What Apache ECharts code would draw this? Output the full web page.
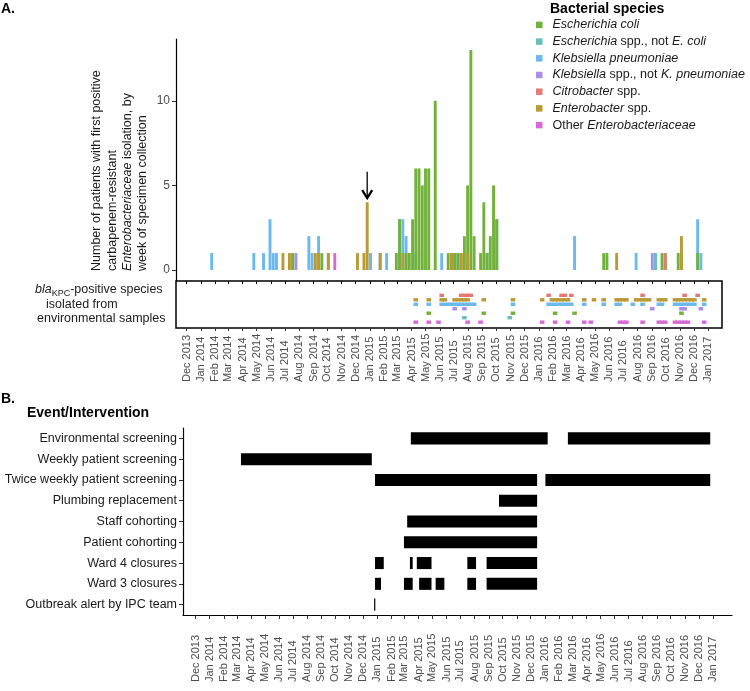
<!DOCTYPE html>
<html><head><meta charset="utf-8">
<script src="https://cdn.jsdelivr.net/npm/echarts@6/dist/echarts.min.js"></script>
<style>html,body{margin:0;padding:0;background:#fff}#c{width:750px;height:691px}</style>
</head><body><div id="c"></div>
<script>
// ---------- DATA ----------
const monthLabels = ['Dec 2013','Jan 2014','Feb 2014','Mar 2014','Apr 2014','May 2014','Jun 2014','Jul 2014','Aug 2014','Sep 2014','Oct 2014','Nov 2014','Dec 2014','Jan 2015','Feb 2015','Mar 2015','Apr 2015','May 2015','Jun 2015','Jul 2015','Aug 2015','Sep 2015','Oct 2015','Nov 2015','Dec 2015','Jan 2016','Feb 2016','Mar 2016','Apr 2016','May 2016','Jun 2016','Jul 2016','Aug 2016','Sep 2016','Oct 2016','Nov 2016','Dec 2016','Jan 2017'];
const yTicksA = [0, 5, 10];

const speciesNames = ['Escherichia coli','Escherichia spp., not E. coli','Klebsiella pneumoniae','Klebsiella spp., not K. pneumoniae','Citrobacter spp.','Enterobacter spp.','Other Enterobacteriaceae'];
const speciesColors = ['#72b23b','#69c0b9','#6cb9ec','#a88de9','#e27b73','#b99a35','#d56ad5'];

// weekly counts: [week index since 1 Dec 2013, patients]
const ecoliWeekly = [[32,1],[41,1],[64,1],[65,3],[67,1],[68,1],[69,3],[70,6],[71,6],[72,5],[73,6],[74,6],[76,10],[80,1],[81,1],[82,1],[83,1],[84,1],[85,2],[86,5],[87,13],[88,2],[90,1],[91,4],[92,1],[93,2],[94,5],[95,3],[128,1],[129,1],[146,1],[147,1],[151,1],[152,1],[157,1]];
const escherichiaSppWeekly = [[144,1]];
const kpneumoniaeWeekly = [[7,1],[20,1],[23,1],[25,3],[26,1],[27,1],[32,1],[37,2],[38,1],[40,2],[43,1],[56,1],[59,1],[61,1],[65,3],[66,3],[67,2],[70,1],[78,1],[82,1],[83,1],[92,1],[95,3],[119,2],[138,1],[144,1],[157,3],[158,1]];
const klebsiellaSppWeekly = [[33,1],[56,1],[143,1]];
const citrobacterWeekly = [[147,1]];
const enterobacterWeekly = [[29,1],[31,1],[39,1],[40,1],[43,1],[52,1],[54,1],[55,4],[59,1],[66,1],[81,1],[84,1],[86,1],[132,1],[152,2]];
const otherWeekly = [[45,1]];

// environmental samples: weeks with a positive isolate
const envEcoli = [74,91,100,113,119,152];
const envEscherichiaSpp = [85,99];
const envKpneumoniae = [70,74,78,79,80,81,82,83,84,85,86,87,88,100,111,112,113,114,115,116,117,118,122,128,132,133,137,140,145,146,150,151,152,153,154,155,156,159];
const envKlebsiellaSpp = [82,85,143,152,153,158];
const envCitrobacter = [78,84,85,86,87,111,115,116,118,140,153,157];
const envEnterobacter = [70,74,78,79,82,83,84,85,86,91,100,109,112,113,114,115,116,117,122,125,128,132,133,134,135,138,139,140,141,142,145,146,147,150,151,152,153,154,155,156,159];
const envOther = [70,74,77,86,90,109,113,117,122,124,133,134,135,140,145,146,147,150,151,152,153,154,159];

// arrow annotation (outbreak alert week)
const arrowWeek = 55, arrowTip = 4.25, arrowTail = 5.8;

// Panel B
const eventNames = ['Environmental screening','Weekly patient screening','Twice weekly patient screening','Plumbing replacement','Staff cohorting','Patient cohorting','Ward 4 closures','Ward 3 closures','Outbreak alert by IPC team'];
const envScreening = [['2015-03-15','2016-01-07'],['2016-02-20','2016-12-26']];
const weeklyScreening = [['2014-03-10','2014-12-20']];
const twiceWeeklyScreening = [['2014-12-27','2015-12-15'],['2016-01-02','2016-12-26']];
const plumbing = [['2015-09-23','2015-12-15']];
const staffCohorting = [['2015-03-07','2015-12-15']];
const patientCohorting = [['2015-02-28','2015-12-15']];
const ward4Closures = [['2014-12-27','2015-01-15'],['2015-03-13','2015-03-19'],['2015-03-28','2015-04-29'],['2015-07-16','2015-08-04'],['2015-08-27','2015-12-15']];
const ward3Closures = [['2014-12-27','2015-01-09'],['2015-02-28','2015-03-19'],['2015-04-02','2015-04-29'],['2015-05-08','2015-05-27'],['2015-07-16','2015-08-04'],['2015-08-27','2015-12-15']];
const outbreakAlert = [['2014-12-25','2014-12-25']];

// ---------- BUILD ----------
const T0 = Date.UTC(2013, 11, 1);
const dayOf = s => { const p = s.split('-').map(Number); return (Date.UTC(p[0], p[1]-1, p[2]) - T0) / 864e5; };
const weekCenter = w => 7 * w + 5;
const monthDays = monthLabels.map((_, i) => (Date.UTC(2013, 11 + i, 1) - T0) / 864e5);
const monthFmt = v => { const i = monthDays.findIndex(d => Math.abs(d - v) < 0.01); return i >= 0 ? monthLabels[i] : ''; };

const weeklyBySpecies = [ecoliWeekly, escherichiaSppWeekly, kpneumoniaeWeekly, klebsiellaSppWeekly, citrobacterWeekly, enterobacterWeekly, otherWeekly];
const envBySpecies = [envEcoli, envEscherichiaSpp, envKpneumoniae, envKlebsiellaSpp, envCitrobacter, envEnterobacter, envOther];
const envRow = [4, 5, 2, 3, 0, 1, 6];          // row inside environmental strip (top = 0)
const stackOrder = [3, 2, 1, 0, 4, 5, 6];       // bottom -> top

const allWeeks = Array.from(new Set([].concat(...weeklyBySpecies.map(a => a.map(p => p[0]))))).sort((a, b) => a - b);

const FONT = 'Liberation Sans, Arial, Helvetica, sans-serif';
const series = [];
stackOrder.forEach(si => {
  const m = new Map(weeklyBySpecies[si]);
  series.push({
    name: speciesNames[si], type: 'bar', stack: 'cre', xAxisIndex: 0, yAxisIndex: 0,
    barWidth: 2.9, itemStyle: { color: speciesColors[si] },
    data: allWeeks.map(w => [weekCenter(w), m.get(w) || 0])
  });
});
envBySpecies.forEach((arr, si) => {
  series.push({
    name: 'env ' + speciesNames[si], type: 'scatter', xAxisIndex: 1, yAxisIndex: 1,
    symbol: 'rect', symbolSize: [4.6, 3.4], itemStyle: { color: speciesColors[si], opacity: 1 },
    data: arr.map(w => [weekCenter(w), envRow[si]])
  });
});
series.push({
  type: 'custom', xAxisIndex: 0, yAxisIndex: 0, encode: { x: 0, y: [1, 2] },
  data: [[weekCenter(arrowWeek), arrowTip, arrowTail]],
  renderItem: (params, api) => {
    const tip = api.coord([api.value(0), api.value(1)]);
    const tail = api.coord([api.value(0), api.value(2)]);
    return { type: 'group', children: [
      { type: 'line', shape: { x1: tip[0], y1: tail[1], x2: tip[0], y2: tip[1] - 1 }, style: { stroke: '#000', lineWidth: 1.3 } },
      { type: 'polyline', shape: { points: [[tip[0] - 5, tip[1] - 8], [tip[0], tip[1]], [tip[0] + 5, tip[1] - 8]] }, style: { stroke: '#000', lineWidth: 2.3, fill: null } }
    ]};
  }
});
const eventIntervals = [envScreening, weeklyScreening, twiceWeeklyScreening, plumbing, staffCohorting, patientCohorting, ward4Closures, ward3Closures, outbreakAlert];
const eventData = [];
eventIntervals.forEach((list, row) => list.forEach(iv => eventData.push([dayOf(iv[0]), dayOf(iv[1]), row])));
series.push({
  type: 'custom', xAxisIndex: 3, yAxisIndex: 2, encode: { x: [0, 1], y: 2 },
  data: eventData,
  renderItem: (params, api) => {
    const s = api.coord([api.value(0), api.value(2)]);
    const e = api.coord([api.value(1), api.value(2)]);
    const h = api.size([0, 1])[1] * 0.58;
    return { type: 'rect', shape: { x: s[0], y: s[1] - h / 2, width: Math.max(e[0] - s[0], 1.2), height: h }, style: { fill: '#000' } };
  }
});

const richLegend = {
  'Escherichia coli': '{i|Escherichia coli}',
  'Escherichia spp., not E. coli': '{i|Escherichia}{n| spp., not }{i|E. coli}',
  'Klebsiella pneumoniae': '{i|Klebsiella pneumoniae}',
  'Klebsiella spp., not K. pneumoniae': '{i|Klebsiella}{n| spp., not }{i|K. pneumoniae}',
  'Citrobacter spp.': '{i|Citrobacter}{n| spp.}',
  'Enterobacter spp.': '{i|Enterobacter}{n| spp.}',
  'Other Enterobacteriaceae': '{n|Other }{i|Enterobacteriaceae}'
};

const xA = { min: -23.1, max: 1156.6 };
const xB = { min: -27.2, max: 1168.4 };

const option = {
  animation: false,
  backgroundColor: '#fff',
  textStyle: { fontFamily: FONT },
  grid: [
    { left: 176, top: 39, width: 546, height: 242 },
    { left: 176, top: 281, width: 546, height: 47, show: true, borderColor: '#000', borderWidth: 1.5, backgroundColor: 'transparent' },
    { left: 183, top: 428, width: 549, height: 187 }
  ],
  xAxis: [
    { gridIndex: 0, type: 'value', min: xA.min, max: xA.max, show: false },
    { gridIndex: 1, type: 'value', min: xA.min, max: xA.max, position: 'bottom',
      axisLine: { show: false, onZero: false }, splitLine: { show: false },
      axisTick: { show: true, length: 3, customValues: monthDays, lineStyle: { color: '#333', width: 1 } },
      axisLabel: { customValues: monthDays, formatter: monthFmt, rotate: 90, align: 'left', margin: 54, fontSize: 11, color: '#4d4d4d', fontFamily: FONT } },
    { gridIndex: 1, type: 'value', min: xA.min, max: xA.max, position: 'top',
      axisLine: { show: false, onZero: false }, splitLine: { show: false }, axisLabel: { show: false },
      axisTick: { show: true, inside: true, length: 3, customValues: monthDays, lineStyle: { color: '#000', width: 1 } } },
    { gridIndex: 2, type: 'value', min: xB.min, max: xB.max, position: 'bottom',
      axisLine: { show: true, onZero: false, lineStyle: { color: '#000', width: 1.2 } }, splitLine: { show: false },
      axisTick: { show: true, length: 4, customValues: monthDays, lineStyle: { color: '#333', width: 1 } },
      axisLabel: { customValues: monthDays, formatter: monthFmt, rotate: 90, align: 'left', margin: 67, fontSize: 11, color: '#4d4d4d', fontFamily: FONT } }
  ],
  yAxis: [
    { gridIndex: 0, type: 'value', min: -0.65, max: 13.65, splitLine: { show: false },
      axisLine: { show: true, onZero: false, lineStyle: { color: '#000', width: 1.2 } },
      axisTick: { show: true, length: 4, customValues: yTicksA, lineStyle: { color: '#333' } },
      axisLabel: { customValues: yTicksA, fontSize: 12, color: '#4d4d4d', margin: 6, fontFamily: FONT } },
    { gridIndex: 1, type: 'value', min: -3.2, max: 7.3, inverse: true, show: false, axisLine: { onZero: false } },
    { gridIndex: 2, type: 'category', data: eventNames, inverse: true,
      axisLine: { show: true, onZero: false, lineStyle: { color: '#000', width: 1.2 } },
      axisTick: { show: true, length: 4, alignWithLabel: true, lineStyle: { color: '#333' } },
      axisLabel: { fontSize: 12.5, color: '#1a1a1a', margin: 6, fontFamily: FONT } }
  ],
  legend: {
    data: speciesNames, orient: 'vertical', left: 536, top: 18.4, padding: 0,
    itemWidth: 6.5, itemHeight: 6.5, itemGap: 3.7, icon: 'rect', selectedMode: false,
    formatter: n => richLegend[n],
    textStyle: { fontSize: 12.5, color: '#1a1a1a', padding: [0, 0, 0, 5],
      rich: { i: { fontStyle: 'italic', fontSize: 12.5, fontFamily: FONT, color: '#1a1a1a' },
              n: { fontSize: 12.5, fontFamily: FONT, color: '#1a1a1a' } } }
  },
  graphic: [
    { type: 'text', left: 1, top: 2, style: { text: 'A.', font: 'bold 14px ' + FONT, fill: '#000' } },
    { type: 'text', left: 1, top: 392, style: { text: 'B.', font: 'bold 14px ' + FONT, fill: '#000' } },
    { type: 'text', left: 27, top: 406, style: { text: 'Event/Intervention', font: 'bold 14px ' + FONT, fill: '#000' } },
    { type: 'text', left: 550, top: 2, style: { text: 'Bacterial species', font: 'bold 14px ' + FONT, fill: '#000' } },
    { type: 'text', x: 97, y: 271, rotation: Math.PI / 2, style: { text: 'Number of patients with first positive', font: '12.5px ' + FONT, fill: '#1a1a1a', align: 'left', verticalAlign: 'middle' } },
    { type: 'text', x: 112.5, y: 271, rotation: Math.PI / 2, style: { text: 'carbapenem-resistant', font: '12.5px ' + FONT, fill: '#1a1a1a', align: 'left', verticalAlign: 'middle' } },
    { type: 'text', x: 128, y: 271, rotation: Math.PI / 2, style: { text: '{i|Enterobacteriaceae}{n| isolation, by}', align: 'left', verticalAlign: 'middle',
        rich: { i: { fontStyle: 'italic', fontSize: 12.5, fontFamily: FONT, fill: '#1a1a1a' }, n: { fontSize: 12.5, fontFamily: FONT, fill: '#1a1a1a' } } } },
    { type: 'text', x: 143, y: 271, rotation: Math.PI / 2, style: { text: 'week of specimen collection', font: '12.5px ' + FONT, fill: '#1a1a1a', align: 'left', verticalAlign: 'middle' } },
    { type: 'text', x: 35, y: 290, style: { text: '{i|bla}{s|KPC}{n|-positive species}', align: 'left', verticalAlign: 'middle',
        rich: { i: { fontStyle: 'italic', fontSize: 12.5, fontFamily: FONT, fill: '#1a1a1a' }, s: { fontSize: 9, fontFamily: FONT, fill: '#1a1a1a', padding: [7, 0, 0, 0] }, n: { fontSize: 12.5, fontFamily: FONT, fill: '#1a1a1a' } } } },
    { type: 'text', x: 46, y: 304.5, style: { text: 'isolated from', font: '12.5px ' + FONT, fill: '#1a1a1a', align: 'left', verticalAlign: 'middle' } },
    { type: 'text', x: 37, y: 319, style: { text: 'environmental samples', font: '12.5px ' + FONT, fill: '#1a1a1a', align: 'left', verticalAlign: 'middle' } }
  ],
  series: series
};
const chart = echarts.init(document.getElementById('c'));
chart.setOption(option);
</script></body></html>
